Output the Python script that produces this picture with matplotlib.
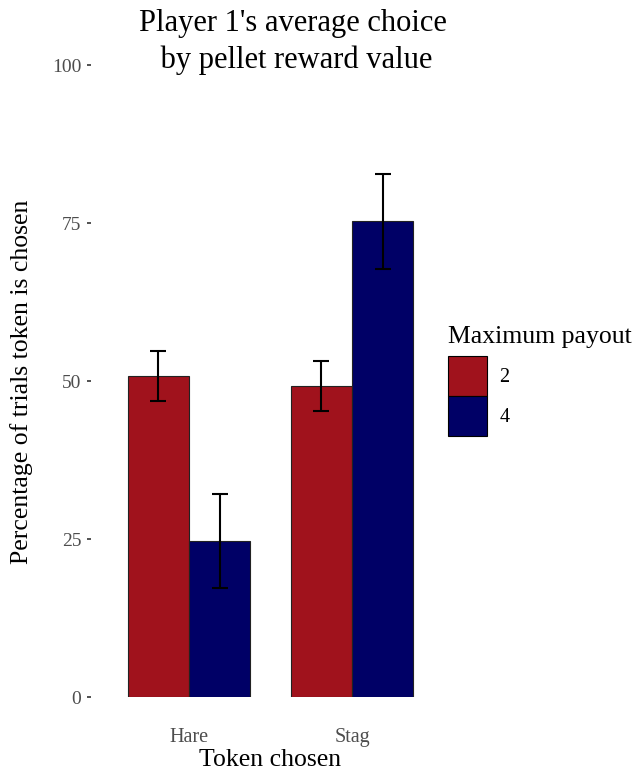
import matplotlib
matplotlib.use("Agg")
import matplotlib.pyplot as plt
import matplotlib.patches as mpatches
import numpy as np

# data
tokens = ["Hare", "Stag"]
payouts = ["2", "4"]
means_2 = [50.8, 49.2]
means_4 = [24.7, 75.3]
err_2 = [4.0, 4.0]
err_4 = [7.4, 7.5]
colors = ["#A0121C", "#000066"]

plt.rcParams["font.family"] = ["Liberation Serif", "DejaVu Serif"]

W, H = 635, 773
fig = plt.figure(figsize=(W / 100, H / 100), dpi=100)
ax = fig.add_axes([91 / W, (H - 697) / H, 359 / W, 632 / H])

x = np.arange(len(tokens))
width = 0.375
for i, (means, errs) in enumerate([(means_2, err_2), (means_4, err_4)]):
    pos = x + (i - 0.5) * width
    ax.bar(pos, means, width, color=colors[i], edgecolor="#222222", linewidth=0.8, zorder=2)
    ax.errorbar(pos, means, yerr=errs, fmt="none", ecolor="black",
                elinewidth=1.5, capsize=5.8, capthick=1.5, zorder=3)

ax.set_xlim(-0.6, 1.6)
ax.set_ylim(0, 100)
ax.set_xticks(x)
ax.set_xticklabels(tokens)
ax.set_yticks([0, 25, 50, 75, 100])
ax.tick_params(axis="x", length=0, pad=22, labelsize=14.5, labelcolor="#4D4D4D")
ax.tick_params(axis="y", length=3, width=1.2, color="#333333", pad=4,
               labelsize=14, labelcolor="#4D4D4D")
for s in ax.spines.values():
    s.set_visible(False)

ax.set_xlabel("Token chosen", fontsize=18.5, labelpad=2)
fig.text(22 / W, 1 - 382 / H, "Percentage of trials token is chosen",
         rotation=90, ha="center", va="center", fontsize=18.5)

fig.text(293 / W, 1 - 42 / H, "Player 1's average choice\n by pellet reward value",
         ha="center", va="center", fontsize=22, linespacing=1.3)

handles = [mpatches.Patch(facecolor=c, edgecolor="black", linewidth=0.8) for c in colors]
leg = fig.legend(handles, payouts, title="Maximum payout", loc="upper left",
                 bbox_to_anchor=(440 / W, 1 - 318 / H), frameon=False,
                 fontsize=14.5, title_fontsize=18.5, handlelength=1.95, handleheight=2.65,
                 handletextpad=0.6, labelspacing=0.0, borderaxespad=0)
leg._legend_box.align = "left"
leg._legend_box.sep = 6

fig.savefig("out.png", dpi=100)
